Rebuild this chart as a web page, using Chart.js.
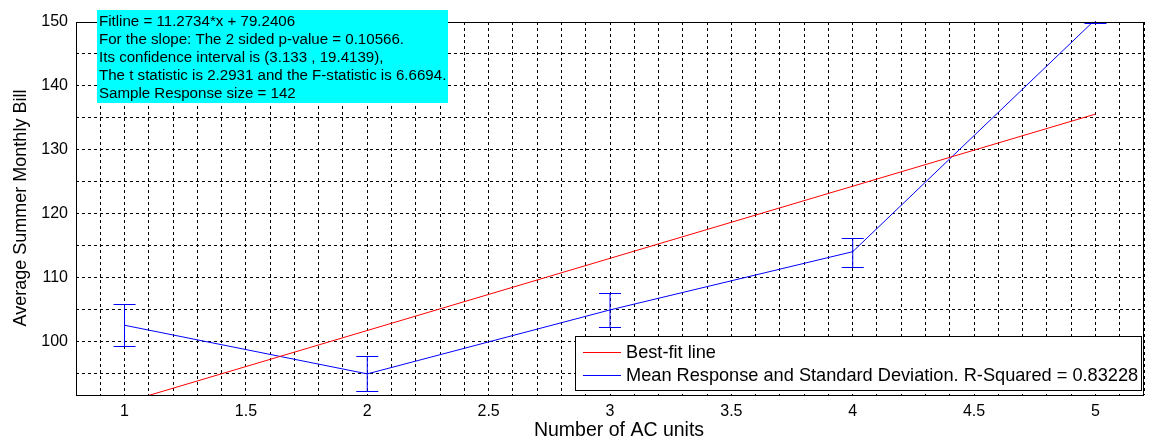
<!DOCTYPE html>
<html>
<head>
<meta charset="utf-8">
<script src="https://cdn.jsdelivr.net/npm/chart.js@4"></script>
<style>
  html, body { margin: 0; padding: 0; background: #fff; }
  #wrap { width: 1151px; height: 442px; }
</style>
</head>
<body>
<div id="wrap"><canvas id="myChart" width="1151" height="442"></canvas></div>
<script>
// data
let acUnits = [1, 2, 3, 4, 5];
let meanBill = [102.6, 95.0, 105.0, 114.1, 150.4];
let errLow = [99.3, 92.3, 102.3, 111.7, 149.9];
let errHigh = [106.0, 97.8, 107.6, 116.2, 156.0];
let fitX = [1, 5];
let fitY = [90.51, 135.61];

let infoLines = [
	"Fitline = 11.2734*x + 79.2406",
	"For the slope: The 2 sided p-value = 0.10566.",
	"Its confidence interval is (3.133 , 19.4139),",
	"The t statistic is 2.2931 and the F-statistic is 6.6694.",
	"Sample Response size = 142",
];

let xTitle = "Number of AC units";
let yTitle = "Average Summer Monthly Bill";

const FONT = "'Liberation Sans', Arial, sans-serif";

// error bars, info box, legend, titles and frame
const extras = {
	id: "extras",
	afterDatasetsDraw(chart) {
		const ctx = chart.ctx;
		const xs = chart.scales.x;
		const ys = chart.scales.y;
		const area = chart.chartArea;
		ctx.save();
		ctx.beginPath();
		ctx.rect(area.left, area.top - 1, area.right - area.left, area.bottom - area.top + 1);
		ctx.clip();
		ctx.strokeStyle = "#0000ff";
		ctx.lineWidth = 1;
		for (let i = 0; i < acUnits.length; i++) {
			let px = xs.getPixelForValue(acUnits[i]);
			let top = Math.round(ys.getPixelForValue(errHigh[i])) + 0.5;
			let bot = Math.round(ys.getPixelForValue(errLow[i])) + 0.5;
			ctx.beginPath();
			ctx.moveTo(px, top);
			ctx.lineTo(px, bot);
			ctx.moveTo(px - 11, top);
			ctx.lineTo(px + 11, top);
			ctx.moveTo(px - 11, bot);
			ctx.lineTo(px + 11, bot);
			ctx.stroke();
		}
		ctx.restore();
	},
	afterDraw(chart) {
		const ctx = chart.ctx;
		const area = chart.chartArea;
		ctx.save();

		// frame
		ctx.strokeStyle = "#000";
		ctx.lineWidth = 1;
		ctx.strokeRect(Math.round(area.left) + 0.5, Math.round(area.top) + 0.5,
			Math.round(area.right - area.left) - 1, Math.round(area.bottom - area.top));

		// axis titles
		ctx.fillStyle = "#000";
		ctx.textAlign = "center";
		ctx.textBaseline = "middle";
		ctx.font = "19.5px " + FONT;
		ctx.fillText(xTitle, 619, 431);
		ctx.save();
		ctx.translate(21, 208);
		ctx.rotate(-Math.PI / 2);
		ctx.font = "18px " + FONT;
		ctx.fillText(yTitle, 0, 0);
		ctx.restore();

		// info box
		ctx.fillStyle = "#00ffff";
		ctx.fillRect(97, 10, 351, 93);
		ctx.fillStyle = "#000";
		ctx.font = "15.1px " + FONT;
		ctx.textAlign = "left";
		infoLines.forEach((t, i) => {
			ctx.fillText(t, 99, 22 + i * 18);
		});

		// legend
		let lx = 575, ly = 336, lw = 566, lh = 54;
		ctx.fillStyle = "#fff";
		ctx.fillRect(lx, ly, lw, lh);
		ctx.strokeStyle = "#000";
		ctx.strokeRect(lx + 0.5, ly + 0.5, lw, lh);
		ctx.font = "18.2px " + FONT;
		chart.data.datasets.forEach((ds, i) => {
			let y = ly + 16 + i * 23;
			ctx.strokeStyle = ds.borderColor;
			ctx.beginPath();
			ctx.moveTo(lx + 8, Math.round(y) + 0.5);
			ctx.lineTo(lx + 46, Math.round(y) + 0.5);
			ctx.stroke();
			ctx.fillStyle = "#000";
			ctx.fillText(ds.label, lx + 51, y + 1);
		});
		ctx.restore();
	},
};

var ctx = document.getElementById("myChart").getContext("2d");
var chart = new Chart(ctx, {
	type: "line",
	data: {
		datasets: [
			{
				label: "Best-fit line",
				data: fitX.map((x, i) => ({ x: x, y: fitY[i] })),
				borderColor: "#ff0000",
				borderWidth: 1,
				pointRadius: 0,
				fill: false,
			},
			{
				label: "Mean Response and Standard Deviation. R-Squared = 0.83228",
				data: acUnits.map((x, i) => ({ x: x, y: meanBill[i] })),
				borderColor: "#0000ff",
				borderWidth: 1,
				pointRadius: 0,
				fill: false,
			},
		],
	},
	options: {
		responsive: false,
		animation: false,
		layout: { padding: { top: 22, right: 2, left: 0, bottom: 0 } },
		plugins: {
			legend: { display: false },
			tooltip: { enabled: false },
		},
		scales: {
			x: {
				type: "linear",
				min: 0.8,
				max: 5.2,
				afterFit(scale) { scale.height = 47; },
				grid: {
					color: "#000",
					drawTicks: false,
				},
				border: { display: false, dash: [3, 3] },
				ticks: {
					stepSize: 0.1,
					autoSkip: false,
					maxRotation: 0,
					padding: 7,
					color: "#000",
					font: { family: FONT, size: 16 },
					callback: (v) => (Math.abs(v * 2 - Math.round(v * 2)) < 1e-6 ? String(+v.toFixed(1)) : ""),
				},
			},
			y: {
				min: 91.7,
				max: 150,
				afterFit(scale) { scale.width = 76; },
				grid: {
					color: "#000",
					drawTicks: false,
				},
				border: { display: false, dash: [3, 3] },
				ticks: {
					stepSize: 5,
					autoSkip: false,
					padding: 8,
					color: "#000",
					font: { family: FONT, size: 16 },
					callback: (v) => (Math.abs(v % 10) < 1e-6 ? String(v) : ""),
				},
			},
		},
	},
	plugins: [extras],
});
</script>
</body>
</html>
